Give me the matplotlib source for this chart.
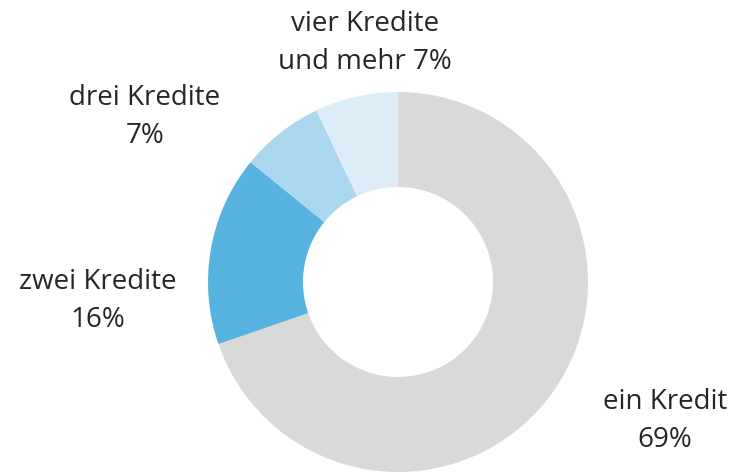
import matplotlib
matplotlib.use("Agg")
import matplotlib.pyplot as plt

categories = ["ein Kredit", "zwei Kredite", "drei Kredite", "vier Kredite\nund mehr"]
values = [69, 16, 7, 7]
colors = ["#D9D9D9", "#56B3DF", "#ABD7EE", "#DCEDF8"]

plt.rcParams['font.family'] = ['Open Sans', 'DejaVu Sans']

W, H = 736, 472
fig = plt.figure(figsize=(W / 100, H / 100), dpi=100)
cx, cy, r = 398, 282, 190
ax = fig.add_axes([(cx - r) / W, (H - cy - r) / H, 2 * r / W, 2 * r / H])
ax.pie(values, colors=colors, startangle=90, counterclock=False, radius=1,
       wedgeprops=dict(width=0.5, linewidth=0))
ax.set_xlim(-1, 1)
ax.set_ylim(-1, 1)
ax.set_aspect("equal")
ax.axis("off")

label_pos = [(665, 421), (98, 301), (145, 117), (365, 43)]
for cat, v, (px, py) in zip(categories, values, label_pos):
    if "\n" in cat:
        txt = f"{cat} {v}%"
    else:
        txt = f"{cat}\n{v}%"
    fig.text(px / W, 1 - py / H, txt, ha="center", va="center", fontsize=20,
             color="#262626", linespacing=1.48)

fig.savefig("out.png", dpi=100)
